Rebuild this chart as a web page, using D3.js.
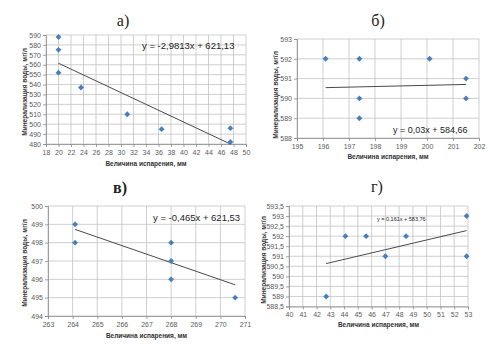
<!DOCTYPE html>
<html><head><meta charset="utf-8">
<script src="https://cdn.jsdelivr.net/npm/d3@7"></script>
<style>body{margin:0;background:#fff}svg{display:block}</style>
</head><body>
<svg id="c" width="490" height="348"></svg>
<script>
// ---- data ----
const titles = ["а)", "б)", "в)", "г)"];
const xTitle = "Величина испарения,  мм";
const yTitle = "Минерализация  воды, мг/л";

const aX = [20, 20, 20, 23.6, 31, 36.5, 47.5, 47.5];
const aY = [588, 575, 552, 537, 510, 495, 496, 482];
const aXTicks = [18,20,22,24,26,28,30,32,34,36,38,40,42,44,46,48,50];
const aYTicks = [480,490,500,510,520,530,540,550,560,570,580,590];
const aTrend = [-2.9813, 621.13];
const aEq = "y = -2,9813x + 621,13";

const bX = [196.1, 197.4, 197.4, 197.4, 200.1, 201.5, 201.5];
const bY = [592, 592, 590, 589, 592, 591, 590];
const bXTicks = [195,196,197,198,199,200,201,202];
const bYTicks = [588,589,590,591,592,593];
const bTrend = [0.03, 584.66];
const bEq = "y = 0,03x + 584,66";

const vX = [264.1, 264.1, 268, 268, 268, 270.6];
const vY = [499, 498, 498, 497, 496, 495];
const vXTicks = [263,264,265,266,267,268,269,270,271];
const vYTicks = [494,495,496,497,498,499,500];
const vTrend = [-0.465, 621.53];
const vEq = "y = -0,465x + 621,53";

const gX = [42.7, 44.1, 45.6, 47, 48.5, 52.9, 52.9];
const gY = [589, 592, 592, 591, 592, 593, 591];
const gXTicks = [40,41,42,43,44,45,46,47,48,49,50,51,52,53];
const gYTicks = [588.5,589,589.5,590,590.5,591,591.5,592,592.5,593,593.5];
const gTrend = [0.161, 583.76];
const gEq = "y = 0,161x + 583,76";

// ---- layout ----
const panels = [
  {x:aX,y:aY,xt:aXTicks,yt:aYTicks,tr:aTrend,eq:aEq,title:titles[0],
   L:46,R:246,T:35,B:144, tx:123,ty:26, ytx:25, yty:92, xty:166, eqx:142, eqy:49, eqs:9.5, tfs:16, tw:"normal"},
  {x:bX,y:bY,xt:bXTicks,yt:bYTicks,tr:bTrend,eq:bEq,title:titles[1],
   L:297,R:479,T:39,B:138, tx:378,ty:26, ytx:276, yty:95, xty:159, eqx:393, eqy:133, eqs:9, tfs:16, tw:"normal"},
  {x:vX,y:vY,xt:vXTicks,yt:vYTicks,tr:vTrend,eq:vEq,title:titles[2],
   L:48,R:245,T:206,B:316, tx:120,ty:193, ytx:25, yty:263, xty:338, eqx:153, eqy:221, eqs:9.5, tfs:16, tw:"bold"},
  {x:gX,y:gY,xt:gXTicks,yt:gYTicks,tr:gTrend,eq:gEq,title:titles[3],
   L:289,R:468,T:206,B:306.5, tx:377,ty:192, ytx:264, yty:260, xty:327, eqx:377, eqy:221, eqs:5.5, tfs:16, tw:"normal"}
];

const fmt = v => String(v).replace(".", ",");
const svg = d3.select("#c");

panels.forEach(p => {
  const xs = d3.scaleLinear().domain(d3.extent(p.xt)).range([p.L, p.R]);
  const ys = d3.scaleLinear().domain(d3.extent(p.yt)).range([p.B, p.T]);
  const g = svg.append("g");

  // gridlines
  g.append("g").selectAll("line").data(p.xt).join("line")
    .attr("x1", d => xs(d)).attr("x2", d => xs(d)).attr("y1", p.T).attr("y2", p.B)
    .attr("stroke", "#c3c3c3").attr("stroke-width", 0.8);
  g.append("g").selectAll("line").data(p.yt).join("line")
    .attr("x1", p.L).attr("x2", p.R).attr("y1", d => ys(d)).attr("y2", d => ys(d))
    .attr("stroke", "#c3c3c3").attr("stroke-width", 0.8);

  // axes
  const xa = g.append("g").attr("transform", `translate(0,${p.B})`)
    .call(d3.axisBottom(xs).tickValues(p.xt).tickFormat(fmt).tickSize(3).tickPadding(3));
  const ya = g.append("g").attr("transform", `translate(${p.L},0)`)
    .call(d3.axisLeft(ys).tickValues(p.yt).tickFormat(fmt).tickSize(3).tickPadding(2));
  [xa, ya].forEach(a => {
    a.select(".domain").attr("stroke", "#8c8c8c").attr("stroke-width", 0.8);
    a.selectAll(".tick line").attr("stroke", "#8c8c8c").attr("stroke-width", 0.8);
    a.selectAll("text").attr("fill", "#5a5a5a").attr("font-size", 7)
      .attr("font-family", "Liberation Sans, Arial, sans-serif");
  });

  // trend line
  const x0 = d3.min(p.x), x1 = d3.max(p.x);
  g.append("line")
    .attr("x1", xs(x0)).attr("y1", ys(Math.max(p.tr[0]*x0 + p.tr[1], d3.min(p.yt))))
    .attr("x2", xs(x1)).attr("y2", ys(Math.max(p.tr[0]*x1 + p.tr[1], d3.min(p.yt))))
    .attr("stroke", "#4a4a4a").attr("stroke-width", 1);

  // points
  const sym = d3.symbol().type(d3.symbolDiamond2).size(22);
  g.append("g").selectAll("path").data(p.x.map((v,i)=>[v,p.y[i]])).join("path")
    .attr("d", sym).attr("transform", d => `translate(${xs(d[0])},${ys(d[1])})`)
    .attr("fill", "#4a7ebb");

  // equation
  g.append("text").attr("x", p.eqx).attr("y", p.eqy).text(p.eq)
    .attr("font-size", p.eqs).attr("fill", "#222")
    .attr("font-family", "Liberation Sans, Arial, sans-serif");

  // axis titles
  g.append("text").attr("x", (p.L+p.R)/2).attr("y", p.xty).attr("text-anchor", "middle")
    .text(xTitle).attr("font-size", 6.5).attr("font-weight", "bold").attr("fill", "#333")
    .attr("font-family", "Liberation Sans, Arial, sans-serif");
  g.append("text").attr("transform", `translate(${p.ytx},${p.yty}) rotate(-90)`)
    .attr("text-anchor", "middle").attr("dy", "0.35em")
    .text(yTitle).attr("font-size", 6.5).attr("font-weight", "bold").attr("fill", "#333")
    .attr("font-family", "Liberation Sans, Arial, sans-serif");

  // panel title
  g.append("text").attr("x", p.tx).attr("y", p.ty).attr("text-anchor", "middle")
    .text(p.title).attr("font-size", p.tfs).attr("font-weight", p.tw).attr("fill", "#222")
    .attr("font-family", "Liberation Serif, Times New Roman, serif");
});
</script>
</body></html>
